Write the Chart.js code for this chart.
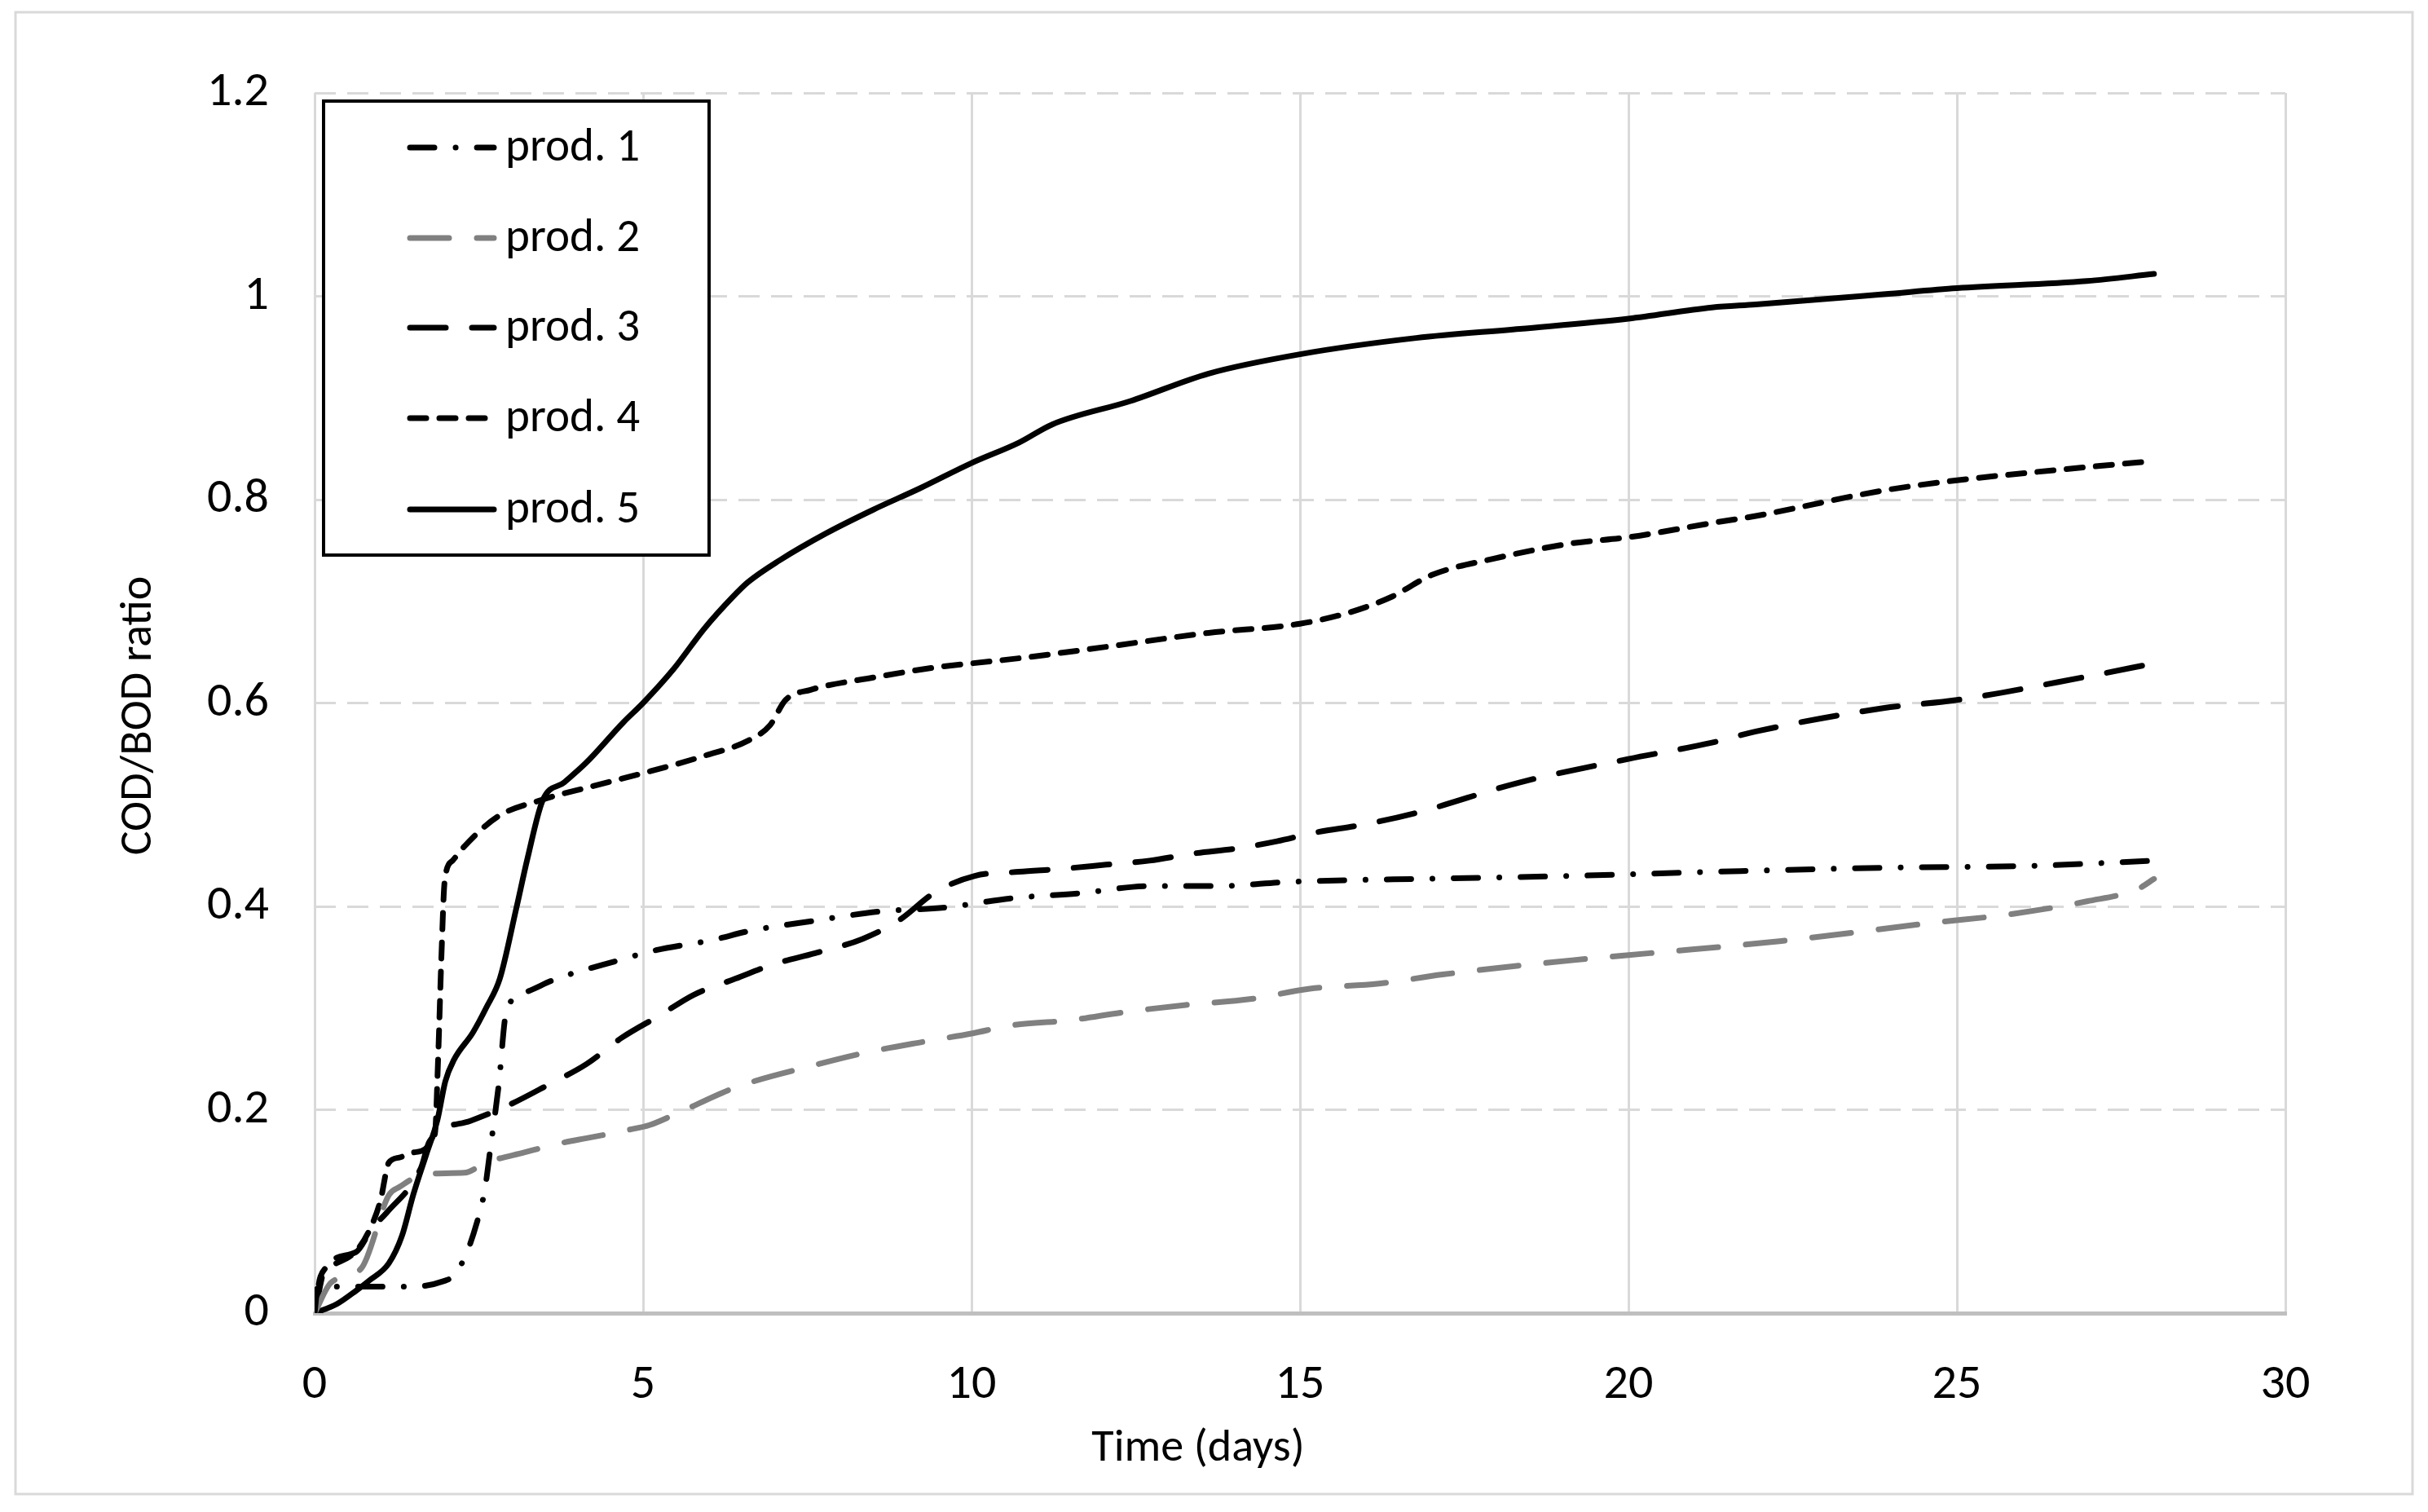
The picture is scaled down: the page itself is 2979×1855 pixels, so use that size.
<!DOCTYPE html>
<html>
<head>
<meta charset="utf-8">
<script src="https://cdn.jsdelivr.net/npm/chart.js@4.4.1/dist/chart.umd.min.js"></script>
<style>
  html, body { margin: 0; padding: 0; background: #fff; }
  canvas { display: block; }
</style>
</head>
<body>
<canvas id="codBodChart" width="2979" height="1855"></canvas>
<script>
// series: time in days, COD/BOD ratio
const SERIES_LABELS = ['prod. 1', 'prod. 2', 'prod. 3', 'prod. 4', 'prod. 5'];

const prod1Days = [0, 0.05, 0.42, 0.96, 1.5, 1.99, 2.08, 2.28, 2.47, 2.59, 2.68, 2.8, 2.92, 3.23, 3.65, 4.63, 5.2, 6.06, 6.63, 7.62, 8.61, 9.61, 10.61, 11.66, 12.71, 13.77, 14.81, 15.87, 16.77, 19.14, 21.27, 23.88, 26.2, 28.0];
const prod1Ratio = [0, 0.026, 0.026, 0.026, 0.026, 0.032, 0.035, 0.054, 0.089, 0.121, 0.164, 0.223, 0.297, 0.316, 0.328, 0.347, 0.357, 0.367, 0.376, 0.386, 0.395, 0.399, 0.408, 0.413, 0.42, 0.42, 0.424, 0.426, 0.427, 0.43, 0.434, 0.438, 0.44, 0.445];

const prod2Days = [0, 0.25, 0.71, 1.13, 1.29, 1.7, 2.28, 2.61, 3.19, 3.81, 4.14, 4.76, 5.1, 5.47, 6.41, 7.62, 8.45, 9.28, 10.0, 10.61, 11.5, 12.33, 13.26, 14.26, 15.15, 16.2, 17.17, 19.14, 20.33, 22.33, 24.65, 25.78, 26.98, 27.75, 28.0];
const prod2Ratio = [0, 0.03, 0.044, 0.116, 0.124, 0.137, 0.138, 0.148, 0.158, 0.168, 0.172, 0.18, 0.185, 0.195, 0.222, 0.244, 0.257, 0.267, 0.275, 0.283, 0.288, 0.296, 0.303, 0.309, 0.319, 0.324, 0.333, 0.347, 0.354, 0.366, 0.384, 0.392, 0.405, 0.417, 0.427];

const prod3Days = [0, 0.17, 0.63, 0.88, 1.1, 1.62, 1.75, 2.37, 2.97, 3.54, 4.14, 4.68, 5.26, 5.77, 6.41, 6.98, 7.62, 8.34, 8.89, 9.45, 10.05, 10.72, 11.38, 12.05, 12.71, 13.38, 14.04, 14.65, 15.26, 15.93, 16.77, 18.35, 20.0, 21.27, 21.94, 23.88, 25.0, 26.98, 28.0];
const prod3Ratio = [0, 0.046, 0.06, 0.084, 0.099, 0.143, 0.169, 0.189, 0.205, 0.224, 0.245, 0.271, 0.293, 0.313, 0.329, 0.343, 0.354, 0.368, 0.386, 0.414, 0.43, 0.434, 0.437, 0.441, 0.445, 0.452, 0.457, 0.464, 0.473, 0.48, 0.492, 0.522, 0.545, 0.561, 0.572, 0.595, 0.603, 0.626, 0.639];

const prod4Days = [0, 0.09, 0.3, 0.63, 0.83, 1.0, 1.13, 1.29, 1.5, 1.83, 1.88, 1.93, 1.98, 2.1, 2.28, 2.78, 3.47, 4.22, 5.0, 5.93, 6.6, 6.93, 7.17, 7.55, 8.5, 9.45, 10.0, 10.72, 12.02, 13.61, 15.0, 15.75, 16.38, 17.01, 17.95, 19.14, 20.0, 21.27, 21.94, 23.88, 25.0, 26.98, 28.0];
const prod4Ratio = [0, 0.036, 0.048, 0.061, 0.081, 0.11, 0.148, 0.153, 0.158, 0.176, 0.25, 0.35, 0.425, 0.445, 0.459, 0.488, 0.505, 0.518, 0.531, 0.548, 0.563, 0.578, 0.603, 0.613, 0.625, 0.635, 0.639, 0.644, 0.655, 0.669, 0.678, 0.689, 0.704, 0.726, 0.742, 0.757, 0.763, 0.777, 0.784, 0.809, 0.819, 0.832, 0.838];

const prod5Days = [0, 0.34, 0.63, 0.83, 1.13, 1.33, 1.5, 1.7, 1.87, 1.99, 2.12, 2.41, 2.61, 2.82, 3.07, 3.24, 3.47, 3.8, 4.13, 4.7, 5.0, 5.46, 5.93, 6.36, 6.6, 7.07, 7.79, 8.5, 9.21, 10.0, 10.72, 11.23, 12.42, 13.61, 15.0, 16.77, 18.35, 20.0, 21.27, 21.94, 23.88, 25.0, 26.98, 28.0];
const prod5Ratio = [0, 0.009, 0.022, 0.032, 0.049, 0.076, 0.116, 0.156, 0.19, 0.228, 0.249, 0.276, 0.3, 0.329, 0.398, 0.447, 0.504, 0.522, 0.541, 0.581, 0.6, 0.633, 0.673, 0.704, 0.719, 0.74, 0.767, 0.79, 0.811, 0.836, 0.856, 0.874, 0.897, 0.924, 0.943, 0.959, 0.968, 0.978, 0.989, 0.992, 1.002, 1.008, 1.015, 1.022];

const X_TITLE = 'Time (days)';
const Y_TITLE = 'COD/BOD ratio';

const FONT = 'Carlito, Calibri, Lato, sans-serif';

const toPoints = (days, ratio) => days.map((d, i) => ({ x: d, y: ratio[i] }));

const lineStyle = (color, dash) => ({
  borderColor: color,
  borderDash: dash,
  borderWidth: 7,
  borderCapStyle: 'round',
  borderJoinStyle: 'round',
  pointRadius: 0,
  fill: false,
  cubicInterpolationMode: 'monotone',
});

const datasets = [
  { label: SERIES_LABELS[0], data: toPoints(prod1Days, prod1Ratio), ...lineStyle('#000', [30, 26, 0.1, 26]) },
  { label: SERIES_LABELS[1], data: toPoints(prod2Days, prod2Ratio), ...lineStyle('#808080', [48, 34]) },
  { label: SERIES_LABELS[2], data: toPoints(prod3Days, prod3Ratio), ...lineStyle('#000', [44, 32]) },
  { label: SERIES_LABELS[3], data: toPoints(prod4Days, prod4Ratio), ...lineStyle('#000', [20, 16]) },
  { label: SERIES_LABELS[4], data: toPoints(prod5Days, prod5Ratio), ...lineStyle('#000', []) },
];

// white page + thin outer frame like the Excel chart area
const framePlugin = {
  id: 'frame',
  beforeDraw(chart) {
    const { ctx, width, height } = chart;
    ctx.save();
    ctx.fillStyle = '#fff';
    ctx.fillRect(0, 0, width, height);
    ctx.strokeStyle = '#d9d9d9';
    ctx.lineWidth = 3;
    ctx.strokeRect(19, 15, 2941, 1818);
    ctx.restore();
  },
};

// axis titles (x title sits centred on the chart area, not the plot)
const axisTitlePlugin = {
  id: 'axisTitles',
  afterDraw(chart) {
    const { ctx } = chart;
    ctx.save();
    ctx.fillStyle = '#000';
    ctx.font = `56px ${FONT}`;
    ctx.textAlign = 'center';
    ctx.textBaseline = 'middle';
    ctx.fillText(X_TITLE, 1470, 1778);
    ctx.translate(171, 878);
    ctx.rotate(-Math.PI / 2);
    ctx.fillText(Y_TITLE, 0, 0);
    ctx.restore();
  },
};

// boxed legend drawn inside the plot, top left
const boxLegendPlugin = {
  id: 'boxLegend',
  afterDraw(chart) {
    const { ctx } = chart;
    const rows = [181, 292, 402, 513, 625];
    ctx.save();
    ctx.fillStyle = '#fff';
    ctx.fillRect(397, 124, 473, 557);
    ctx.strokeStyle = '#000';
    ctx.lineWidth = 4;
    ctx.setLineDash([]);
    ctx.strokeRect(397, 124, 473, 557);
    chart.data.datasets.forEach((ds, i) => {
      const y = rows[i];
      ctx.beginPath();
      ctx.strokeStyle = ds.borderColor;
      ctx.lineWidth = ds.borderWidth;
      ctx.lineCap = ds.borderCapStyle;
      ctx.setLineDash(ds.borderDash);
      ctx.moveTo(503, y);
      ctx.lineTo(606, y);
      ctx.stroke();
      ctx.setLineDash([]);
      ctx.fillStyle = '#000';
      ctx.font = `57px ${FONT}`;
      ctx.textAlign = 'left';
      ctx.textBaseline = 'middle';
      ctx.fillText(ds.label, 620, y + 2);
    });
    ctx.restore();
  },
};

new Chart(document.getElementById('codBodChart'), {
  type: 'line',
  data: { datasets },
  options: {
    responsive: false,
    animation: false,
    devicePixelRatio: 1,
    layout: { padding: { left: 0, top: 114, right: 175, bottom: 0 } },
    plugins: {
      legend: { display: false },
      tooltip: { enabled: false },
    },
    scales: {
      x: {
        type: 'linear',
        min: 0,
        max: 30,
        ticks: {
          stepSize: 5,
          color: '#000',
          font: { family: FONT, size: 60 },
          padding: 53,
        },
        grid: { color: '#d9d9d9', lineWidth: 3, drawTicks: false },
        border: { color: '#bfbfbf', width: 5 },
        afterFit: (scale) => { scale.height = 244; },
      },
      y: {
        type: 'linear',
        min: 0,
        max: 1.2,
        ticks: {
          stepSize: 0.2,
          color: '#000',
          font: { family: FONT, size: 60 },
          padding: 56,
          callback: (v) => String(parseFloat(v.toFixed(1))),
        },
        grid: { color: '#d9d9d9', lineWidth: 3, drawTicks: false },
        border: { display: false, dash: [26, 14] },
        afterFit: (scale) => { scale.width = 386; },
      },
    },
  },
  plugins: [framePlugin, boxLegendPlugin, axisTitlePlugin],
});
</script>
</body>
</html>
